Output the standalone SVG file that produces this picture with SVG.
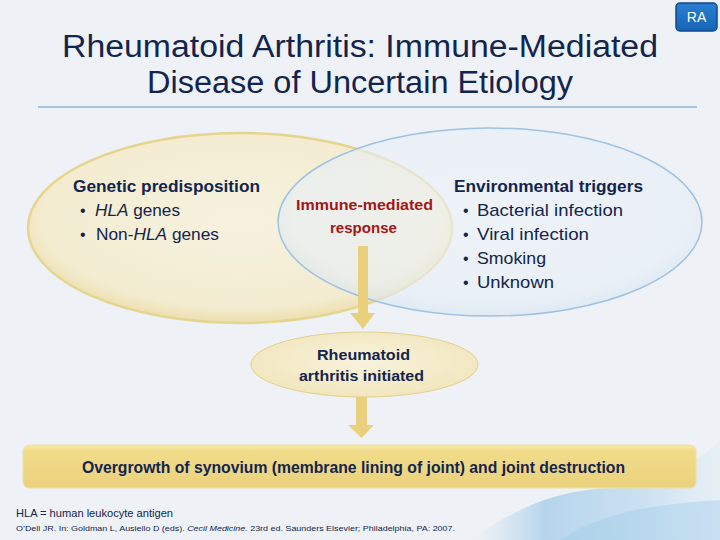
<svg xmlns="http://www.w3.org/2000/svg" width="720" height="540" viewBox="0 0 720 540">
<defs>
<radialGradient id="gY" cx="50%" cy="45%" r="55%">
<stop offset="0" stop-color="#f6f2e0"/>
<stop offset="0.85" stop-color="#f3ecd0"/>
<stop offset="1" stop-color="#ecdfae"/>
</radialGradient>
<radialGradient id="gB" cx="50%" cy="45%" r="55%">
<stop offset="0" stop-color="#eef3f8"/>
<stop offset="0.85" stop-color="#e6eef7"/>
<stop offset="1" stop-color="#d6e5f3"/>
</radialGradient>
<linearGradient id="gBar" x1="0" y1="0" x2="0" y2="1">
<stop offset="0" stop-color="#f8e9a8"/>
<stop offset="0.15" stop-color="#f1dc8a"/>
<stop offset="1" stop-color="#ead17c"/>
</linearGradient>
<radialGradient id="gSm" cx="50%" cy="45%" r="55%">
<stop offset="0" stop-color="#f8f3dd"/>
<stop offset="1" stop-color="#f1e6bd"/>
</radialGradient>
<linearGradient id="gSw" x1="0" y1="0" x2="1" y2="0">
<stop offset="0" stop-color="#bcd9ee" stop-opacity="0"/>
<stop offset="0.3" stop-color="#8fc1e4" stop-opacity="0.6"/>
<stop offset="0.7" stop-color="#a9d0ec" stop-opacity="0.5"/>
<stop offset="1" stop-color="#d6e8f5" stop-opacity="0.3"/>
</linearGradient>
<linearGradient id="gBadge" x1="0" y1="0" x2="0" y2="1">
<stop offset="0" stop-color="#2a7fd0"/>
<stop offset="1" stop-color="#1764b5"/>
</linearGradient>
</defs>
<style>
.t{font-family:"Liberation Sans","DejaVu Sans",sans-serif;fill:#13244d}
.b{font-weight:bold}
.red{fill:#a31717}
.arrow{fill:#ead07c}
</style>
<rect width="720" height="540" fill="#eef2f6"/>
<path d="M470 540 C520 505 560 490 610 488 C650 486 690 470 720 440 L720 540 Z" fill="url(#gSw)"/>
<path d="M560 540 C600 515 640 505 720 500 L720 540 Z" fill="#9ccbe9" opacity="0.4"/>
<g id="badge">
<rect x="676" y="3" width="41" height="28" rx="4" fill="url(#gBadge)" stroke="#0f4a8c" stroke-width="1.5"/>
<text class="t" x="696.5" y="22" font-size="14" text-anchor="middle" style="fill:#ffffff">RA</text>
</g>
<g id="title">
<text class="t" x="360" y="57" font-size="31" text-anchor="middle" textLength="596" lengthAdjust="spacingAndGlyphs">Rheumatoid Arthritis: Immune-Mediated</text>
<text class="t" x="360" y="93" font-size="31" text-anchor="middle" textLength="426" lengthAdjust="spacingAndGlyphs">Disease of Uncertain Etiology</text>
<line x1="38" y1="107" x2="697" y2="107" stroke="#a9c5d9" stroke-width="2"/>
</g>
<g id="genetic">
<ellipse cx="240" cy="228" rx="212" ry="95" fill="url(#gY)" stroke="#e6d58e" stroke-width="2.5"/>
</g>
<g id="environmental">
<ellipse cx="490" cy="222" rx="212" ry="94" fill="url(#gB)" fill-opacity="0.6" stroke="#9fc2e2" stroke-width="1.5"/>
</g>
<g id="genetic-text">
<text class="t b" x="73" y="192" font-size="17" textLength="187" lengthAdjust="spacingAndGlyphs">Genetic predisposition</text>
<text class="t" x="80" y="216" font-size="16">•</text>
<text class="t" x="95" y="216" font-size="17" textLength="85" lengthAdjust="spacingAndGlyphs"><tspan font-style="italic">HLA</tspan> genes</text>
<text class="t" x="80" y="240" font-size="16">•</text>
<text class="t" x="96" y="240" font-size="17" textLength="123" lengthAdjust="spacingAndGlyphs">Non-<tspan font-style="italic">HLA</tspan> genes</text>
</g>
<g id="environmental-text">
<text class="t b" x="454" y="192" font-size="17" textLength="189" lengthAdjust="spacingAndGlyphs">Environmental triggers</text>
<text class="t" x="463" y="216" font-size="16">•</text>
<text class="t" x="477" y="216" font-size="17" textLength="146" lengthAdjust="spacingAndGlyphs">Bacterial infection</text>
<text class="t" x="463" y="240" font-size="16">•</text>
<text class="t" x="477" y="240" font-size="17" textLength="112" lengthAdjust="spacingAndGlyphs">Viral infection</text>
<text class="t" x="463" y="264" font-size="16">•</text>
<text class="t" x="477" y="264" font-size="17" textLength="69" lengthAdjust="spacingAndGlyphs">Smoking</text>
<text class="t" x="463" y="288" font-size="16">•</text>
<text class="t" x="477" y="288" font-size="17" textLength="77" lengthAdjust="spacingAndGlyphs">Unknown</text>
</g>
<g id="immune">
<text class="t b red" x="364.5" y="210" font-size="15" text-anchor="middle" textLength="137" lengthAdjust="spacingAndGlyphs">Immune-mediated</text>
<text class="t b red" x="363.5" y="233" font-size="15" text-anchor="middle" textLength="67" lengthAdjust="spacingAndGlyphs">response</text>
</g>
<g id="connectors">
<path class="arrow" d="M358 246 H368 V313 H375 L363 329 L350 313 H358 Z"/>
<path class="arrow" d="M356 397 H367 V425 H374 L361.5 438 L348 425 H356 Z"/>
</g>
<g id="initiated">
<ellipse cx="364.5" cy="364.5" rx="113.5" ry="32.5" fill="url(#gSm)" stroke="#e4d08a" stroke-width="1"/>
<text class="t b" x="363.5" y="360" font-size="15" text-anchor="middle" textLength="93" lengthAdjust="spacingAndGlyphs">Rheumatoid</text>
<text class="t b" x="361.5" y="381" font-size="15" text-anchor="middle" textLength="125" lengthAdjust="spacingAndGlyphs">arthritis initiated</text>
</g>
<g id="outcome">
<rect x="23" y="445" width="673" height="43" rx="6" fill="url(#gBar)" stroke="#f0e0a0" stroke-width="1"/>
<text class="t b" x="82" y="473" font-size="16" textLength="543" lengthAdjust="spacingAndGlyphs">Overgrowth of synovium (membrane lining of joint) and joint destruction</text>
</g>
<g id="footnotes">
<text class="t" x="16" y="517" font-size="11" textLength="157" lengthAdjust="spacingAndGlyphs">HLA = human leukocyte antigen</text>
<text class="t" x="16" y="531" font-size="8" textLength="439" lengthAdjust="spacingAndGlyphs">O’Dell JR. In: Goldman L, Ausiello D (eds). <tspan font-style="italic">Cecil Medicine.</tspan>  23rd ed. Saunders Elsevier; Philadelphia, PA: 2007.</text>
</g>
</svg>
